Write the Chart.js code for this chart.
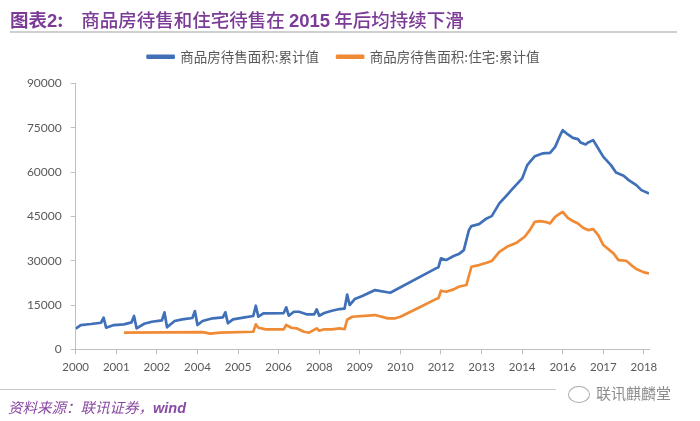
<!DOCTYPE html>
<html>
<head>
<meta charset="utf-8">
<script src="https://cdn.jsdelivr.net/npm/chart.js@4.4.1/dist/chart.umd.min.js"></script>
<style>
  html, body { margin: 0; padding: 0; background: #fff; }
  #wrap { position: relative; width: 700px; height: 421px; overflow: hidden; }
  #chart { position: absolute; left: 0; top: 0; }
  #title {
    position: absolute; left: 10px; top: 6px; white-space: nowrap;
    color: #7b3b96; font-family: "Noto Sans CJK SC", sans-serif; font-size: 18.5px; font-weight: 500;
  }
  #title .num { font-family: "Liberation Sans", Arial, sans-serif; font-weight: bold; }
  #title .lead { font-weight: bold; margin-right: 18px; }
  #titleLine { position: absolute; left: 10px; top: 31px; width: 667px; height: 2px; background: #d0d0d0; }
  #footLine { position: absolute; left: 0; top: 389px; width: 556px; height: 1px; background: #c8c8c8; }
  #source {
    position: absolute; left: 8px; top: 396px; white-space: nowrap;
    color: #8a4aa3; font-family: "Noto Sans CJK SC", sans-serif; font-size: 14.5px; font-style: italic;
  }
  #source .en { font-family: "Liberation Sans", Arial, sans-serif; font-weight: bold; }
  #mark {
    position: absolute; left: 568px; top: 382px; white-space: nowrap;
    color: #8c8c8c; font-family: "Noto Sans CJK SC", sans-serif; font-size: 15px;
  }
  #mark .icon {
    display: inline-block; width: 20px; height: 15px; border: 1px solid #aaa; border-radius: 50%;
    vertical-align: middle; margin-right: 6px;
  }
</style>
</head>
<body>
<div id="wrap">
  <canvas id="chart" width="700" height="421"></canvas>
  <div id="title"><span class="lead">图表<span class="num">2</span>:</span>商品房待售和住宅待售在 <span class="num">2015</span> 年后均持续下滑</div>
  <div id="titleLine"></div>
  <div id="footLine"></div>
  <div id="source">资料来源：联讯证券，<span class="en">wind</span></div>
  <div id="mark"><span class="icon"></span>联讯麒麟堂</div>
</div>
<script>
// x positions are category indexes (one tick label every 16 categories)
const tickStep = 16;
const xTickLabels = ["2000", "2001", "2002", "2004", "2005", "2006", "2008", "2009", "2010", "2012", "2013", "2014", "2016", "2017", "2018"];
const yTicks = [0, 15000, 30000, 45000, 60000, 75000, 90000];

const seriesNames = ["商品房待售面积:累计值", "商品房待售面积:住宅:累计值"];

const totalX = [0, 2, 6, 10, 11, 12, 15, 19, 22, 23, 24, 27, 30, 34, 35, 36, 39, 42, 46, 47, 48, 50, 54, 58, 59, 60, 62, 66, 70, 71, 72, 74, 82, 83, 84, 86, 88, 91, 94, 95, 96, 98, 101, 104, 106, 107, 108, 110, 113, 118, 124, 142, 143, 144, 146, 149, 151, 153, 155, 156, 159, 162, 164, 167, 170, 172, 176, 178, 181, 184, 187, 189, 191, 192, 194, 196, 198, 199, 201, 202, 204, 206, 208, 211, 213, 216, 218, 221, 223, 226];
const totalY = [7000, 8200, 8560, 9000, 10700, 7300, 8200, 8450, 9100, 11270, 7100, 8660, 9340, 9800, 12500, 7440, 9575, 10150, 10600, 12960, 8220, 9575, 10490, 10830, 12520, 8800, 10150, 10700, 11270, 14750, 11030, 12180, 12280, 14210, 11370, 12720, 12720, 11840, 11840, 13530, 11370, 12280, 13060, 13630, 13800, 18500, 15000, 17000, 18030, 20060, 19150, 27400, 27800, 30790, 30210, 31570, 32240, 33600, 40360, 41720, 42400, 44320, 45100, 49400, 52200, 54130, 57860, 62360, 65400, 66320, 66520, 68550, 72500, 74200, 72750, 71600, 71150, 70040, 69360, 70040, 70820, 68000, 65170, 62360, 59890, 58740, 57280, 55590, 53900, 52780];

const houseX = [19, 50, 53, 54, 57, 70, 71, 72, 75, 82, 83, 85, 87, 90, 92, 95, 96, 98, 101, 104, 106, 107, 109, 118, 123, 126, 128, 135, 142, 143, 144, 146, 149, 151, 154, 156, 159, 162, 164, 167, 170, 174, 177, 179, 181, 183, 185, 187, 189, 191, 192, 194, 196, 198, 200, 202, 204, 206, 208, 212, 214, 217, 219, 221, 224, 226];
const houseY = [5620, 5800, 5300, 5400, 5620, 5950, 8450, 7300, 6770, 6770, 8220, 7300, 7100, 5950, 5620, 7100, 6300, 6770, 6770, 7100, 6800, 10000, 11030, 11600, 10490, 10490, 11000, 14000, 17000, 17300, 19830, 19490, 20300, 21180, 21760, 27950, 28520, 29300, 29880, 33020, 34710, 36200, 38100, 40360, 43170, 43410, 43170, 42630, 44860, 46010, 46560, 44530, 43410, 42630, 41140, 40360, 40700, 38670, 35290, 32480, 30210, 29980, 28520, 27170, 26050, 25710];

const toPoints = (xs, ys) => xs.map((x, i) => ({ x, y: ys[i] }));

const axisColor = "#bfbfbf";
const labelColor = "#595959";

// push the plot area down below the legend, and centre the legend a bit further right
const legendGap = {
  id: "legendGap",
  beforeInit(chart) {
    const fit = chart.legend.fit;
    chart.legend.fit = function () {
      fit.bind(chart.legend)();
      this.height += 10;
    };
  },
  afterLayout(chart) {
    chart.legend.left += 38;
  },
};

new Chart(document.getElementById("chart"), {
  type: "line",
  data: {
    datasets: [
      {
        label: seriesNames[0],
        data: toPoints(totalX, totalY),
        borderColor: "#3f70b8",
        backgroundColor: "#3f70b8",
        borderWidth: 2.7,
        pointRadius: 0,
        tension: 0,
        borderJoinStyle: "round",
      },
      {
        label: seriesNames[1],
        data: toPoints(houseX, houseY),
        borderColor: "#f08a35",
        backgroundColor: "#f08a35",
        borderWidth: 2.7,
        pointRadius: 0,
        tension: 0,
        borderJoinStyle: "round",
      },
    ],
  },
  options: {
    responsive: false,
    animation: false,
    layout: { padding: { top: 32, left: 0, right: 51, bottom: 0 } },
    plugins: {
      tooltip: { enabled: false },
      legend: {
        position: "top",
        labels: {
          boxWidth: 26,
          boxHeight: 2,
          padding: 18,
          color: labelColor,
          font: { family: "Noto Sans CJK SC", size: 13.5 },
        },
      },
    },
    scales: {
      x: {
        type: "linear",
        min: 0,
        max: 226,
        afterFit: (s) => { s.height = 71.7; },
        afterBuildTicks: (s) => { s.ticks = xTickLabels.map((_, i) => ({ value: i * tickStep })); },
        ticks: {
          autoSkip: false,
          maxRotation: 0,
          padding: 6,
          color: labelColor,
          font: { family: "Lato", size: 11.5 },
          callback: (v) => xTickLabels[Math.round(v / tickStep)] ?? "",
        },
        grid: { drawOnChartArea: false, color: axisColor, tickLength: 5 },
        border: { color: axisColor },
      },
      y: {
        min: 0,
        max: 90000,
        afterFit: (s) => { s.width = 75.7; },
        afterBuildTicks: (s) => { s.ticks = yTicks.map((v) => ({ value: v })); },
        ticks: {
          padding: 9,
          color: labelColor,
          font: { family: "Lato", size: 12 },
          callback: (v) => String(v),
        },
        grid: { drawOnChartArea: false, color: axisColor, tickLength: 5 },
        border: { color: axisColor },
      },
    },
  },
  plugins: [legendGap],
});
</script>
</body>
</html>
